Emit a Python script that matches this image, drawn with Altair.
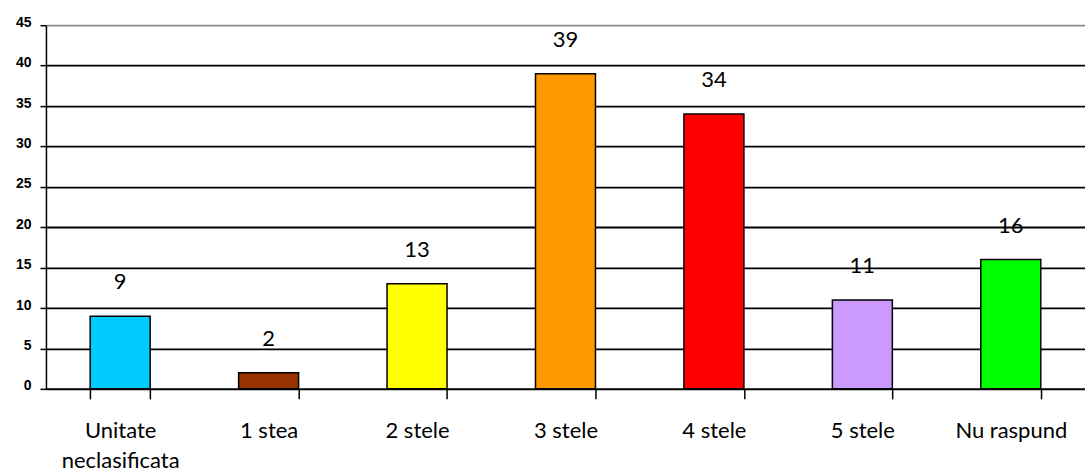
import altair as alt
import pandas as pd

categories = ["Unitate neclasificata", "1 stea", "2 stele", "3 stele", "4 stele", "5 stele", "Nu raspund"]
values = [9, 2, 13, 39, 34, 11, 16]
colors = ["#00CCFF", "#993300", "#FFFF00", "#FF9900", "#FF0000", "#CC99FF", "#00FF00"]

df = pd.DataFrame({"cat": categories, "val": values, "col": colors})

x = alt.X("cat:N", sort=categories, title=None,
          scale=alt.Scale(paddingInner=0.596, paddingOuter=0.298),
          axis=alt.Axis(labelAngle=0, tickBand="extent", tickSize=10, tickColor="black",
                        tickWidth=1.5, domainColor="black", domainWidth=1.5,
                        labelFont="Lato", labelFontSize=22, labelColor="black",
                        labelBaseline="top", labelPadding=22, labelLineHeight=30,
                        labelExpr="datum.label == 'Unitate neclasificata' ? ['Unitate', 'neclasificata'] : datum.label"))
y = alt.Y("val:Q", title=None,
          scale=alt.Scale(domain=[0, 45]),
          axis=alt.Axis(values=[0, 5, 10, 15, 20, 25, 30, 35, 40, 45], tickSize=6, tickColor="black",
                        tickWidth=1.5, domainColor="black", domainWidth=1.5,
                        labelFont="Liberation Sans", labelFontWeight="bold", labelFontSize=14, labelColor="black",
                        labelPadding=9, labelOffset=-3,
                        grid=True, gridWidth=1.8,
                        gridColor={"condition": {"test": "datum.value == 45", "value": "#8c8c8c"}, "value": "black"}))

bars = alt.Chart(df).mark_bar(stroke="black", strokeWidth=1.5).encode(
    x=x, y=y, color=alt.Color("col:N", scale=None)
)
text = alt.Chart(df).mark_text(dy=-34, font="Lato", fontSize=22, color="black", baseline="middle").encode(
    x=alt.X("cat:N", sort=categories), y="val:Q", text="val:Q"
)

chart = (bars + text).properties(
    width=1040, height=364,
    padding={"left": 46, "top": 25, "right": 0, "bottom": 86},
    autosize=alt.AutoSizeParams(type="none"),
).configure_view(stroke=None).configure(background="white")

chart.save("out.html", embed_options={"renderer": "svg", "actions": False})
